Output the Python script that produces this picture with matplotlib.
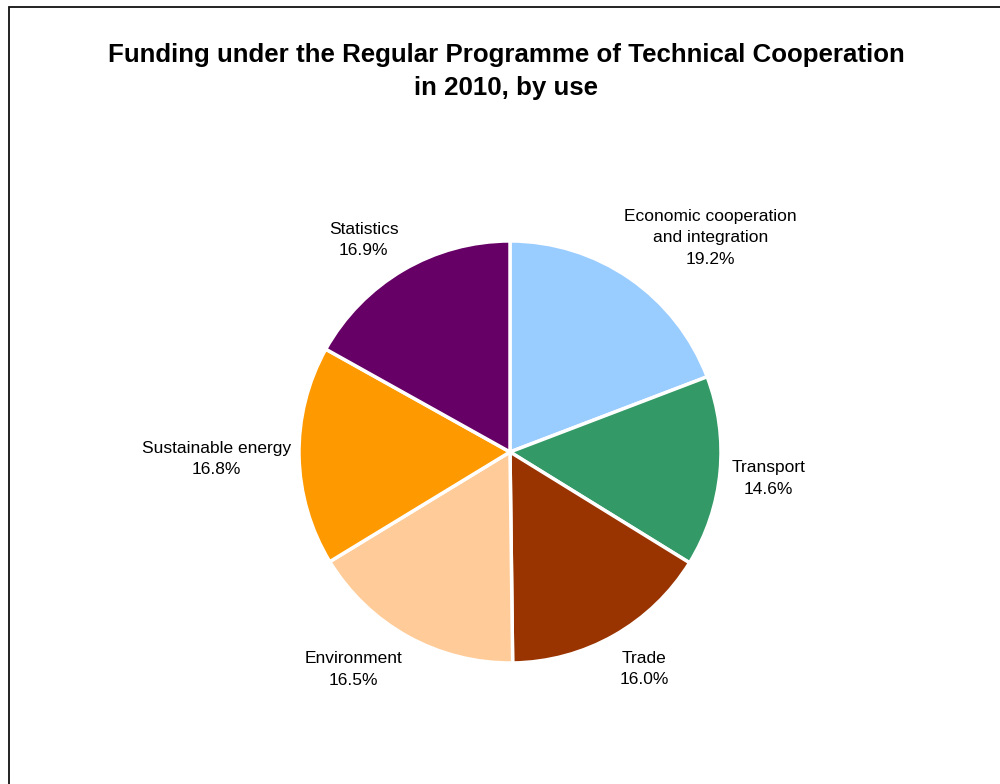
import matplotlib
matplotlib.use("Agg")
import matplotlib.pyplot as plt
import matplotlib.patches as mpatches
import numpy as np

plt.rcParams['font.family'] = ['Liberation Sans', 'DejaVu Sans']

# Share of funding by use, clockwise from 12 o'clock
categories = ['Economic cooperation\nand integration', 'Transport', 'Trade',
              'Environment', 'Sustainable energy', 'Statistics']
shares = [19.2, 14.6, 16.0, 16.5, 16.8, 16.9]
colors = ['#99CCFF', '#339966', '#993300', '#FFCC99', '#FF9900', '#660066']

# label placement: radial distance (in radii) and angular nudge (deg)
label_dist = [1.39, 1.23, 1.21, 1.27, 1.39, 1.22]
label_nudge = [-8.5, -0.4, 2.2, -6.7, 0.3, 4.2]

fig = plt.figure(figsize=(10, 7.84), dpi=100)
ax = fig.add_axes([0.1935, 0.0198, 0.633, 0.8074])

wedges, _ = ax.pie(shares, colors=colors, startangle=90, counterclock=False,
                   radius=1.0, wedgeprops=dict(edgecolor='white', linewidth=2.5))

total = sum(shares)
cum = 0
for name, val, d, nudge in zip(categories, shares, label_dist, label_nudge):
    mid = 90 - (cum + val / 2) / total * 360 + nudge
    cum += val
    x = d * np.cos(np.radians(mid))
    y = d * np.sin(np.radians(mid))
    ax.text(x, y, f"{name}\n{val:.1f}%", ha='center', va='center',
            fontsize=12.5, linespacing=1.55)

ax.set_xlim(-1.5, 1.5)
ax.set_ylim(-1.5, 1.5)
ax.set_aspect('equal')
ax.axis('off')

fig.text(0.506, 0.909, "Funding under the Regular Programme of Technical Cooperation\nin 2010, by use",
         ha='center', va='center', fontsize=18.6, fontweight='bold', linespacing=1.45)

# outer frame (runs off the right and bottom edges)
border = mpatches.Rectangle((8.5 / 1000, -0.1), 1.2, (784 - 7.5) / 784 + 0.1,
                            transform=fig.transFigure, fill=False,
                            edgecolor='#111111', linewidth=1.3, clip_on=False)
fig.patches.append(border)

fig.savefig('out.png', dpi=100, facecolor='white')
